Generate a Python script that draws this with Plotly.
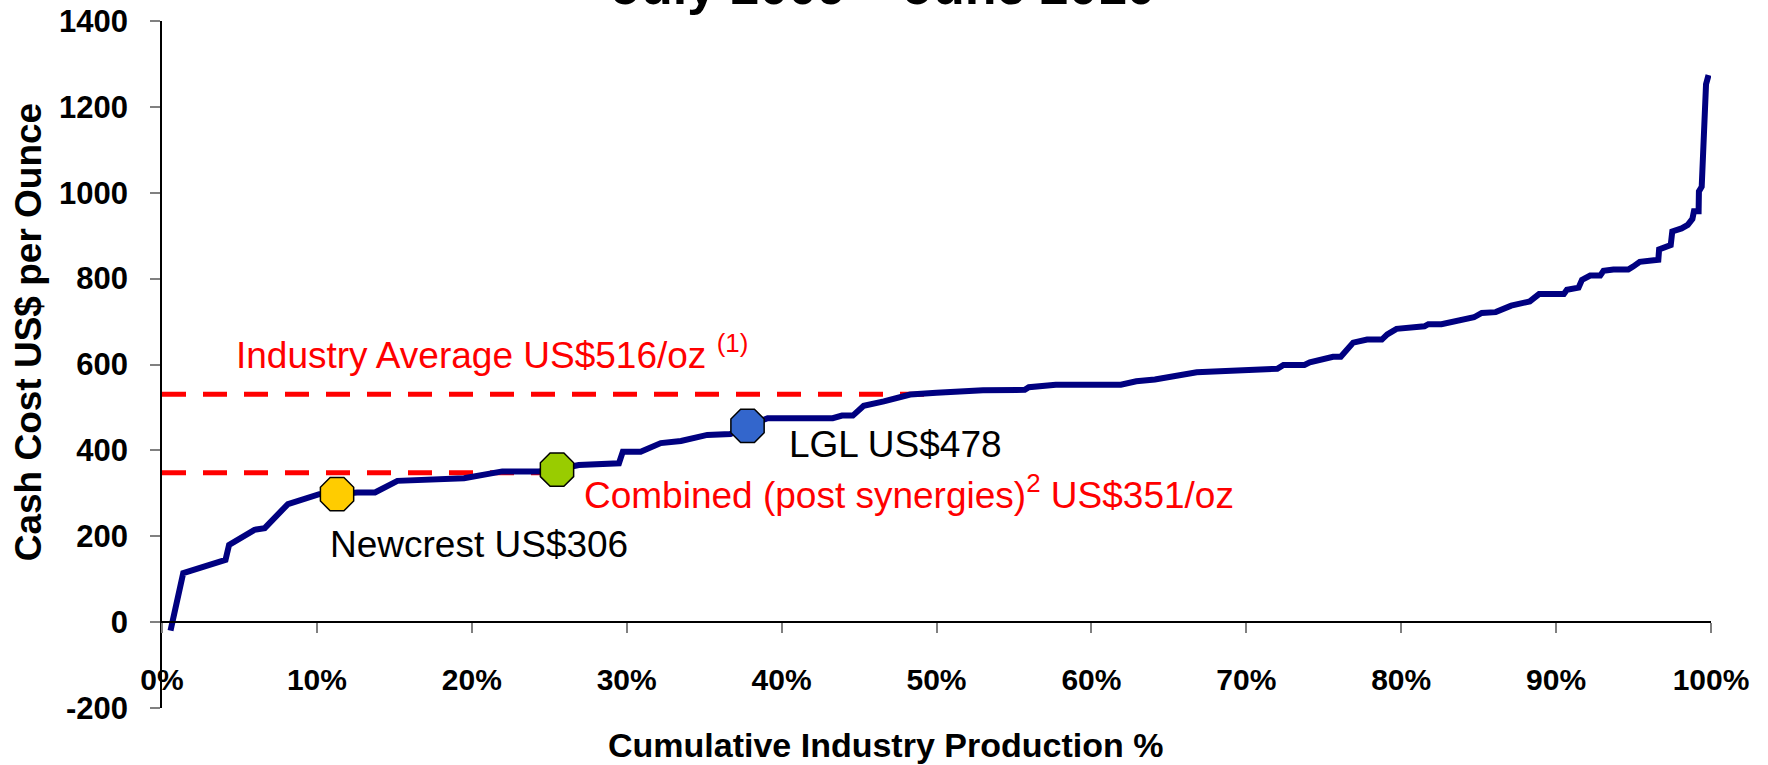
import plotly.graph_objects as go

# ---------------- data ----------------
cum_pct = [0.55, 1.37, 4.1, 4.33, 5.97, 6.63, 8.13, 9.43, 10.15, 11.3, 12.6, 13.75, 15.2,
           19.5, 20.5, 21.97, 24.3, 25.5, 26.9, 28.6, 29.5, 29.75, 30.9, 32.2, 33.5, 35.2,
           36.7, 37.8, 39.1, 43.3, 43.9, 44.6, 45.3, 46.6, 47.6, 48.3, 50.0, 53.0, 55.7,
           55.96, 57.7, 61.9, 62.9, 64.1, 66.8, 68.7, 70.2, 71.2, 72.0, 72.4, 73.75, 74.1,
           75.6, 76.1, 76.5, 76.9, 77.8, 78.75, 79.1, 79.7, 81.5, 81.75, 82.6, 83.45, 84.7,
           85.2, 86.1, 87.1, 88.3, 88.9, 90.5, 90.7, 91.45, 91.67, 92.2, 92.85, 93.06, 93.7,
           94.66, 94.97, 95.4, 96.6, 96.65, 97.4, 97.5, 98.1, 98.5, 98.8, 98.9, 99.2, 99.22,
           99.4, 99.5, 99.63, 99.68, 99.84]
cash_cost = [-20, 114, 145, 180, 215, 219, 275, 289, 298, 298, 302, 302, 329,
             335, 341, 351, 351, 355, 366, 370, 370, 397, 397, 417, 422, 436,
             438, 457, 475, 475, 481, 481, 504, 514, 522, 530, 534, 540, 541,
             547, 553, 553, 561, 565, 582, 586, 586, 590, 590, 599, 599, 605,
             618, 618, 637, 651, 658, 658, 670, 683, 689, 694, 694, 701, 710,
             720, 722, 737, 747, 764, 764, 774, 779, 797, 807, 807, 818, 821,
             821, 828, 839, 844, 868, 878, 910, 917, 925, 939, 957, 957, 1003,
             1014, 1092, 1180, 1253, 1274]

company_names = ["Newcrest", "Combined", "LGL"]
company_pct = [11.3, 25.5, 37.8]
company_cost = [298, 355, 457]
company_colors = ["#FFCC00", "#99CC00", "#3366CC"]

industry_avg_x = [0, 50]
industry_avg_y = [531, 531]
combined_x = [0, 25.5]
combined_y = [348, 348]

x_tick_vals = [0, 10, 20, 30, 40, 50, 60, 70, 80, 90, 100]
x_tick_text = ["0%", "10%", "20%", "30%", "40%", "50%", "60%", "70%", "80%", "90%", "100%"]
y_tick_vals = [-200, 0, 200, 400, 600, 800, 1000, 1200, 1400]
y_tick_text = ["-200", "0", "200", "400", "600", "800", "1000", "1200", "1400"]

FONT = "Liberation Sans, Arial, sans-serif"

fig = go.Figure()

fig.add_trace(go.Scatter(x=industry_avg_x, y=industry_avg_y, mode="lines",
                         line=dict(color="#FF0000", width=5, dash="24px,17px"),
                         showlegend=False, hoverinfo="skip"))
fig.add_trace(go.Scatter(x=combined_x, y=combined_y, mode="lines",
                         line=dict(color="#FF0000", width=5, dash="24px,17px"),
                         showlegend=False, hoverinfo="skip"))
fig.add_trace(go.Scatter(x=cum_pct, y=cash_cost, mode="lines",
                         line=dict(color="#000080", width=6),
                         showlegend=False))
fig.add_trace(go.Scatter(x=company_pct, y=company_cost, mode="markers",
                         marker=dict(symbol="octagon", size=36, color=company_colors,
                                     line=dict(color="black", width=1.5)),
                         text=company_names, showlegend=False, cliponaxis=False))

# text annotations
ann_font = dict(family=FONT, size=37)
fig.add_annotation(x=4.62, y=628, xref="x", yref="y", xanchor="left", yanchor="middle",
                   text="Industry Average US$516/oz <sup>(1)</sup>", showarrow=False,
                   font=dict(ann_font, color="#FF0000"))
fig.add_annotation(x=27.09, y=301, xref="x", yref="y", xanchor="left", yanchor="middle",
                   text="Combined (post synergies)<sup>2</sup> US$351/oz", showarrow=False,
                   font=dict(ann_font, color="#FF0000"))
fig.add_annotation(x=40.33, y=413, xref="x", yref="y", xanchor="left", yanchor="middle",
                   text="LGL US$478", showarrow=False, font=dict(ann_font, color="black"))
fig.add_annotation(x=10.73, y=180, xref="x", yref="y", xanchor="left", yanchor="middle",
                   text="Newcrest US$306", showarrow=False, font=dict(ann_font, color="black"))

# axis titles
fig.add_annotation(x=0.467, y=-0.054, xref="paper", yref="paper", xanchor="center",
                   yanchor="middle", text="Cumulative Industry Production %", showarrow=False,
                   font=dict(family=FONT, size=34, color="black", weight="bold"))
fig.add_annotation(x=-0.086, y=0.548, xref="paper", yref="paper", xanchor="center",
                   yanchor="middle", text="Cash Cost US$ per Ounce", textangle=-90,
                   showarrow=False,
                   font=dict(family=FONT, size=37, color="black", weight="bold"))
# title (cut off at top of page)
fig.add_annotation(x=0.466, y=1.006, xref="paper", yref="paper", xanchor="center",
                   yanchor="bottom", text="July 2009 – June 2010", showarrow=False,
                   font=dict(family=FONT, size=52, color="black", weight="bold"))

fig.update_layout(
    width=1768, height=765,
    margin=dict(l=162, r=57, t=21, b=57),
    paper_bgcolor="white", plot_bgcolor="white",
    xaxis=dict(range=[0, 100], anchor="free", position=0.125, automargin=False,
               showline=True, linecolor="black", linewidth=1.5,
               ticks="outside", ticklen=10, tickcolor="#808080", tickwidth=1.5,
               tickvals=x_tick_vals, ticktext=x_tick_text, ticklabelstandoff=21,
               tickfont=dict(family=FONT, size=30, color="black", weight="bold"),
               showgrid=False, zeroline=False),
    yaxis=dict(range=[-200, 1400], automargin=False, showline=True, linecolor="black",
               linewidth=1.5, ticks="outside", ticklen=10, tickcolor="#808080", tickwidth=1.5,
               tickvals=y_tick_vals, ticktext=y_tick_text, ticklabelstandoff=16,
               tickfont=dict(family=FONT, size=31, color="black", weight="bold"),
               showgrid=False, zeroline=False),
)

fig.write_html("out.html", config={"displayModeBar": False},
               post_script="document.body.style.margin='0';document.body.style.overflow='hidden';")
